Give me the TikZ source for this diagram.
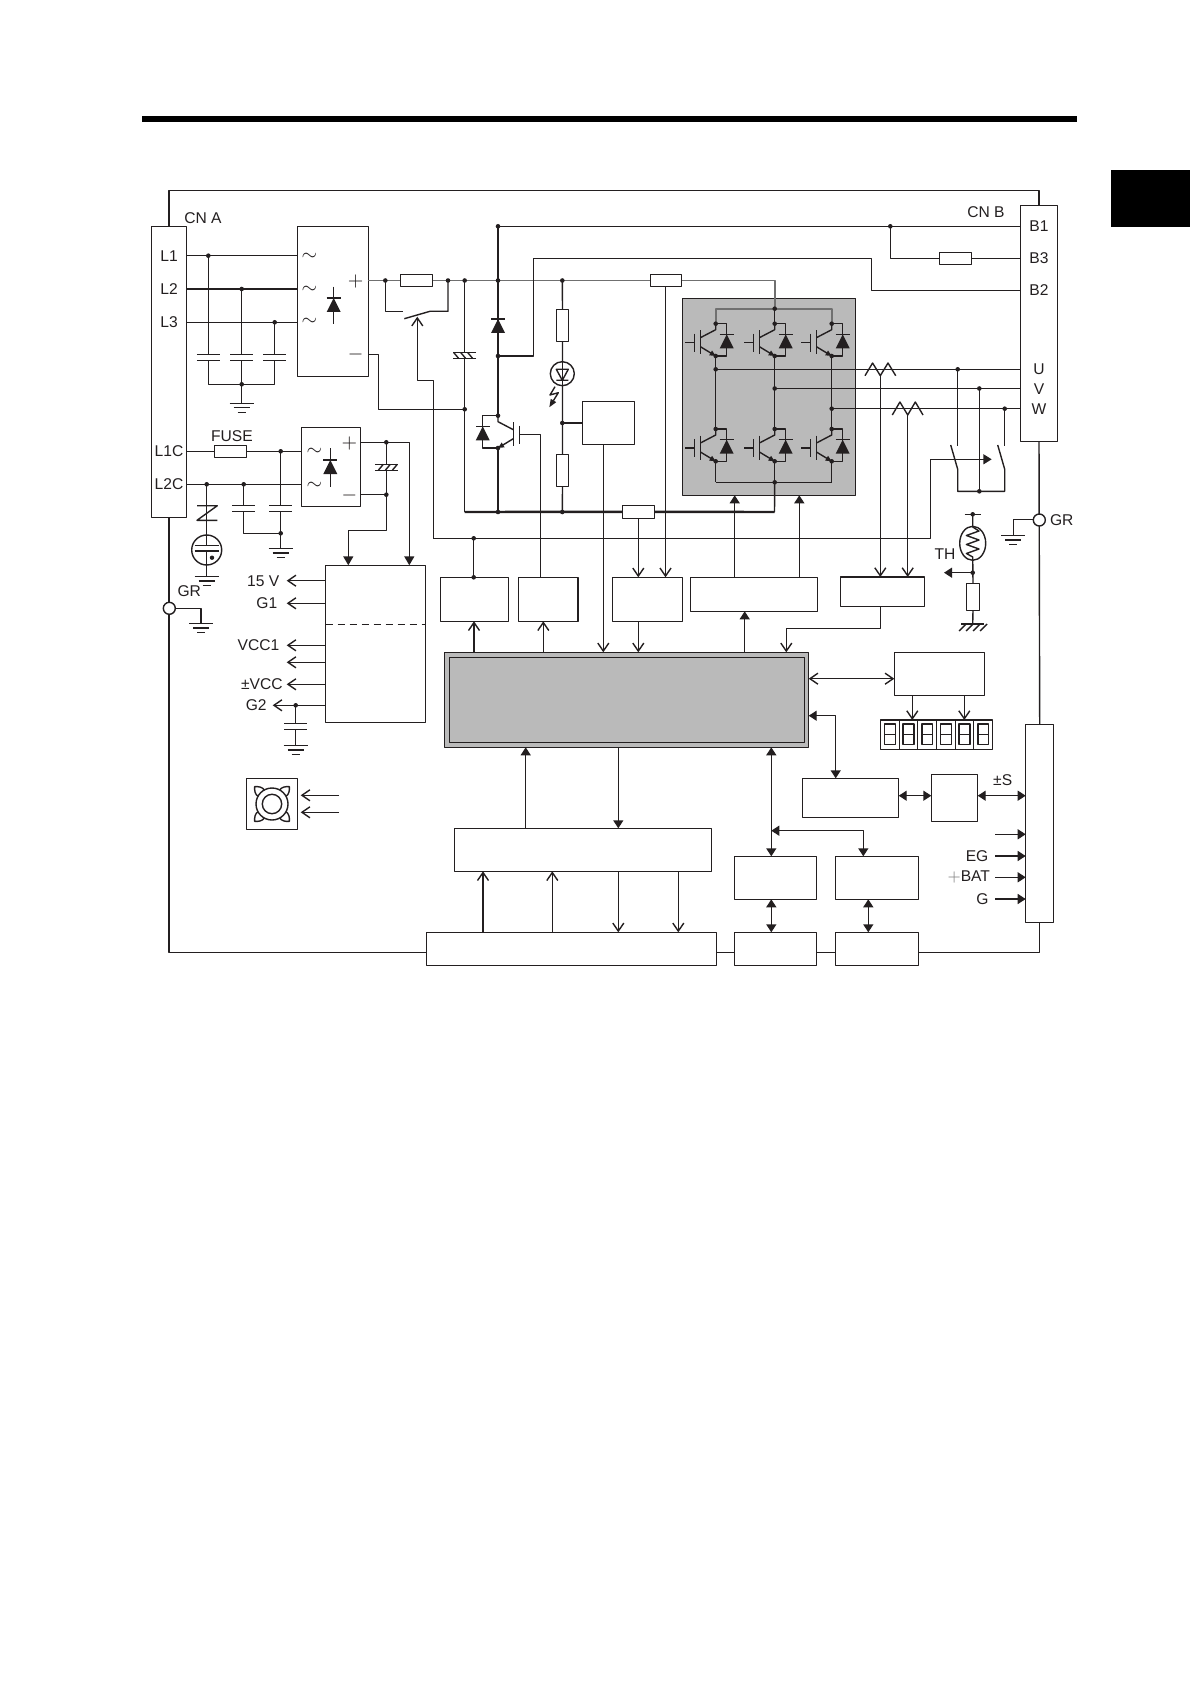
\documentclass[tikz,border=0pt]{standalone}
\usepackage{fontspec}
\setmainfont{Liberation Sans}
\usetikzlibrary{arrows.meta}
\definecolor{ink}{HTML}{231F20}
\definecolor{panel}{HTML}{BABABA}
\definecolor{dcgray}{HTML}{707070}
\newcommand{\blk}[5]{\node[blk,minimum width={(#4-#2)*0.5pt},minimum height={(#5-#3)*0.5pt}] (#1) at ({(#2+#4)/2},{(#3+#5)/2}) {};}
\def\dioff{11}
\tikzset{
 blk/.style={draw=ink,fill=white,inner sep=0pt,outer sep=0pt},
 lbl/.style={inner sep=0pt,text=ink,font=\fontsize{7.8}{9}\selectfont},
 sgn/.style={inner sep=0pt,text=ink,font=\fontsize{10}{10}\selectfont},
 oa/.style={-{Straight Barb[length=4pt,width=5.5pt]}},
 oo/.style={{Straight Barb[length=4pt,width=5.5pt]}-{Straight Barb[length=4pt,width=5.5pt]}},
 fa/.style={-{Triangle[length=4pt,width=5pt]}},
 ff/.style={{Triangle[length=4pt,width=5pt]}-{Triangle[length=4pt,width=5pt]}},
 dcbus/.style={draw=dcgray,line width=0.9pt},
 thick bus/.style={line width=1.2pt},
 gndsym/.pic={\draw (-12,0)--(12,0) (-8,4.5)--(8,4.5) (-4,9)--(4,9);},
 capsym/.pic={\fill[white] (-4,-3) rectangle (4,3); \draw (-11.5,-3)--(11.5,-3) (-11.5,3)--(11.5,3);},
 hatchcap/.pic={\fill[white] (-4,-3) rectangle (4,3);
  \draw (-11.5,-3)--(11.5,-3) (-11.5,3)--(11.5,3);
  \foreach \u in {-8,-1,6} \draw (\u,3)--(\u+5,-3);},
 diodesym/.pic={\fill[ink] (-7,7)--(7,7)--(0,-7)--cycle; \draw (-7,-7)--(7,-7);},
 igbt/.pic={
  \draw (0,0)--(0,6)--(-15.3,14);
  \draw[-{Triangle[length=3pt,width=2.6pt]}] (-15.3,23)--(0,32.3);
  \draw (-15.3,6.7)--(-15.3,30.7) (-21.3,10)--(-21.3,28) (-30.7,19)--(-21.3,19);
  \draw (0,0)--(\dioff,0)--(\dioff,32.3)--(0,32.3);
  \fill[ink] (\dioff-7,24.7)--(\dioff+7,24.7)--(\dioff,10.7)--cycle;
  \draw (\dioff-7,10.7)--(\dioff+7,10.7);
  \fill[ink] (0,0) circle[radius=2.3] (0,32.3) circle[radius=2.3];},
 fansym/.pic={\draw (0,0) circle[radius=16] (0,0) circle[radius=9.7];
  \foreach \a in {45,135,225,315}
   \draw[rotate=\a] (15.7,-4.5) .. controls (19,-5) and (22,-3) .. (24.5,0) .. controls (22,3) and (19,5) .. (15.7,4.5);},
}
\begin{document}
\begin{tikzpicture}[x=0.5pt,y=-0.5pt,line width=0.7pt,draw=ink,line join=round]
 \useasboundingbox (0,0) rectangle (1190,1684);
 % page marks
 \fill[black] (142,116) rectangle (1077,122);
 \fill[black] (1111,170) rectangle (1190,226.7);
 % blocks
 \blk{cna}{151.3}{226.3}{186.7}{517.3}
 \blk{cnb}{1020.3}{205.3}{1057.7}{441.3}
 \blk{cnc}{1025.7}{724.3}{1053.7}{922.3}
 \coordinate (frb) at (0,952.3);
 \coordinate (frt) at (0,190.3);
 \blk{lnk}{426.3}{932.3}{716.3}{965.3}
 \blk{cona}{734.3}{932.3}{816.7}{965.3}
 \blk{conb}{835.3}{932.3}{918.7}{965.3}
 % frame
 \draw (cna.north) -- (cna.north |- frt) -- (cnb.north |- frt) -- (cnb.north);
 \draw (cna.south) -- (cna.south |- frb) -- (lnk.west |- frb);
 \draw (lnk.east |- frb) -- (cona.west |- frb) (cona.east |- frb) -- (conb.west |- frb);
 \draw (conb.east |- frb) -| (cnc.south);
 \draw (cnb.south) -- (cnc.north);
 % inverter panel
 \node[blk,fill=panel,minimum width=86.7pt,minimum height=98.5pt] (igp) at (769,396.8) {};
 \blk{recta}{297.3}{226.3}{368.3}{376.3}
 \blk{rectb}{301.3}{427.3}{360.3}{506.3}
 \blk{psu}{325.7}{565.3}{425.7}{722.3}
 \blk{drva}{440.3}{577.3}{508.7}{621.3}
 \blk{drvb}{518.3}{577.3}{578}{621.3}
 \blk{sns}{612.3}{577.3}{682.7}{621.3}
 \blk{gate}{690.3}{577.3}{817.7}{611.3}
 \blk{cur}{840.3}{577}{924.7}{606.3}
 \blk{vdet}{582.3}{401.3}{634.7}{444.3}
 \blk{led}{894.3}{652.3}{984.3}{695.3}
 \blk{enc}{802.3}{778.3}{898.7}{817.3}
 \blk{enb}{931.3}{774.3}{977.7}{821.3}
 \blk{mid}{454.3}{828.3}{711.7}{871.3}
 \blk{busa}{734.3}{856.3}{816.7}{899.3}
 \blk{busb}{835.3}{856.3}{918.7}{899.3}
 \blk{fan}{246.3}{778.3}{297.7}{829.3}
 \blk{seg}{880.3}{720}{992.7}{749.3}
 \node[blk,fill=panel,minimum width=182.2pt,minimum height=47.5pt] (cpuo) at (626.5,699.8) {};
 \node[blk,fill=panel,minimum width=177.7pt,minimum height=42.5pt] (cpui) at (627,699.8) {};
 % junctions
 \foreach \n/\x/\y in {jL1/208.3/255.7,jL2/241.7/289,jL3/274.7/322.3,jCap/241.7/384.3,
  dcA/385.3/280.5,dcB/448/280.5,dcC/464.7/280.5,dcD/498/280.5,dcE/562.3/280.5,
  jTop/498/226.3,jB3/890.3/226.3,jBr/498/356,jNeg/464.7/409.3,jCol/498/415.7,jEmi/498/448,
  busL/464.7/512,busD/498/512,busE/562.3/512,busR/774.5/512,
  jVd/562.3/423,jRail/774.7/308.7,jLow/774.7/482.3,
  jU/715.7/369.3,jV/774.7/388.5,jW/831.7/408.7,
  bU/957.7/369.3,bV/979.3/388.5,bW/1004.7/408.7,bS/979.3/491.3,
  jF/280.7/451.3,jZ/206.7/484.3,jC2/243.7/484.3,jC3/280.7/533.3,
  jP/386.3/442.3,jM/386.3/494.7,jRel/473.7/538.3,jG2/295.7/705.3,
  jTh/972.7/572.7,jThT/972.7/514.3,zigU/880.3/375.7,zigW/907.7/415}
  \coordinate (\n) at (\x,\y);
 % resistors
 \blk{rbr}{400.3}{274.3}{432.7}{286.7}
 \blk{rdc}{650.3}{274.3}{681.7}{286.7}
 \blk{rbus}{622.3}{505.3}{654.7}{518.3}
 \blk{rbt}{939.3}{252.3}{971.7}{264.3}
 \blk{rup}{556.3}{309.3}{568.7}{341.7}
 \blk{rlo}{556.3}{454.3}{568.7}{486.3}
 \blk{rth}{966.3}{583.3}{979.7}{610.3}
 \blk{fuse}{214.3}{445.3}{246.7}{457.3}
 % mains input
 \foreach \j in {jL1,jL2,jL3} \draw (cna.east |- \j) -- (recta.west |- \j);
 \draw (jL1) |- (jL3 |- jCap) -- (jL3);
 \draw (jL2) -- (jL2 |- 0,403.3);
 \foreach \x in {208.3,241.7,274.7} \pic at (\x,357.3) {capsym};
 \pic at (241.7,403.3) {gndsym};
 % dc link
 \draw[dcbus] (recta.east |- dcA) -- (rbr.west);
 \draw[dcbus] (rbr.east) -- (rdc.west);
 \draw[dcbus] (rdc.east) -| (jRail);
 \draw (dcA) |- (403.3,311.3);
 \draw (404.3,318.7) -- (430,311.3) -- (448,311.3) -- (dcB);
 \draw (recta.east |- 0,354.3) -- (378.7,354.3) |- (jNeg);
 \draw (dcC) -- (busL);
 \pic[xscale=-1] at (464.7,355.5) {hatchcap};
 \draw[thick bus] (busL) -- (rbus.west);
 \draw[thick bus] (rbus.east) -- (busR);
 \draw (busR) -- (jLow);
 % brake
 \draw (jTop) -- (jCol);
 \draw (jTop) -- (cnb.west |- jTop);
 \pic at (498,326) {diodesym};
 \draw (jBr) -| (533.3,258.3) -- (871.3,258.3) -- (871.3,290.3) -- (cnb.west |- 0,290.3);
 \draw (jB3) |- (rbt.west) (rbt.east) -- (cnb.west |- rbt);
 \def\dioff{15.3}
 \pic[xscale=-1] at (jCol) {igbt};
 \def\dioff{11}
 \draw (jEmi) -- (busD);
 \draw (519.3,434.3) -- (540.3,434.3) -- (540.3,0 |- drvb.north);
 % voltage detection
 \draw (dcE) -- (rup.north) (rup.south) -- (rlo.north) (rlo.south) -- (busE);
 \draw[fill=white] (562.3,373.7) circle[radius=12];
 \draw (562.3,361.7) -- (562.3,385.7);
 \draw (556.3,369.3) -- (568.3,369.3) -- (562.3,380.3) -- cycle (556.3,380.3) -- (568.3,380.3);
 \draw[-{Triangle[length=4pt,width=3pt]}] (555,386.7) -- (550,395) -- (558.3,392.7) -- (549.3,407.3);
 \draw (jVd) -- (vdet.west |- jVd);
 % inverter
 \draw[dcbus] (715.7,323.7) |- (831.7,308.7) -- (831.7,323.7);
 \draw (jRail) -- (774.7,323.7);
 \foreach \x in {715.7,774.7,831.7} {
  \pic at (\x,323.7) {igbt};
  \pic at (\x,429) {igbt};
  \draw (\x,356) -- (\x,429) (\x,461.7) -- (\x,482.3);
 }
 \draw (715.7,482.3) -- (831.7,482.3);
 % motor output
 \foreach \j in {jU,jV,jW} \draw (\j) -- (cnb.west |- \j);
 \draw (865,375.7) -- (872.6,363) -- (zigU) -- (888,363) -- (895.7,375.7);
 \draw (892.3,415) -- (899.9,402) -- (zigW) -- (915.3,402) -- (923,415);
 \draw (bU) -- (957.7,445.7) (bW) -- (1004.7,445.7);
 \draw (950.7,445) -- (957.7,469.3) |- (bS) -| (1004.7,469.3) -- (997.7,445);
 \draw (bV) -- (bS);
 \draw[-{Triangle[length=4.2pt,width=5pt]}] (jRel) -| (930.3,459.3) -- (991.7,459.3);
 \draw[oa] (433.3,538.3) |- (417.3,380.3) -- (417.3,316.7);
 \draw (433.3,538.3) -- (jRel);
 \draw (jRel) -- (jRel |- drva.north);
 % control supply
 \draw (cna.east |- jF) -- (fuse.west) (fuse.east) -- (rectb.west |- jF);
 \draw (cna.east |- jZ) -- (rectb.west |- jZ);
 \draw (jF) -- (jC3) -| (jC2);
 \foreach \x in {243.7,280.7} \pic at (\x,508.5) {capsym};
 \draw (jC3) -- (280.7,548.3);
 \pic at (280.7,548.3) {gndsym};
 \draw (jZ) -- (206.7,576.3);
 \draw (197,505.7) -- (217.3,505.7) -- (197,520.3) -- (217.3,520.3);
 \draw[fill=white] (206.7,550) circle[radius=15];
 \draw (206.7,535) -- (206.7,545.7) (206.7,551) -- (206.7,565) (194.7,545.7) -- (218.7,545.7) (194.7,551) -- (218.7,551);
 \fill[ink] (212,557.7) circle[radius=2.2];
 \pic at (206.7,576.3) {gndsym};
 \draw[-{Triangle[length=4.5pt,width=5pt]}] (rectb.east |- jP) -| (409.3,0 |- psu.north);
 \draw[-{Triangle[length=4.5pt,width=5pt]}] (jP) -- (386.3,530.3) -| (348.3,0 |- psu.north);
 \draw (rectb.east |- jM) -- (jM);
 \pic at (386.3,467.3) {hatchcap};
 \draw[dashed,dash pattern=on 3.5pt off 2.5pt] (psu.west |- 0,624.7) -- (psu.east |- 0,624.7);
 \foreach \y/\t in {580.7/286.7,603.3/286.7,645.3/286.7,662.3/286.7,684.3/286.7,705.3/272.7}
  \draw[oa] (psu.west |- 0,\y) -- (\t,\y);
 \draw (jG2) -- (295.7,745.3);
 \pic at (295.7,726.5) {capsym};
 \pic at (295.7,745.3) {gndsym};
 % frame grounds
 \draw[fill=white] (169.3,608.3) circle[radius=6];
 \draw (175.3,608.3) -- (201,608.3) -- (201,623.3);
 \pic at (201,623.3) {gndsym};
 \draw (1033.3,519.3) -| (1013.3,535.3);
 \pic at (1013.3,535.3) {gndsym};
 \draw[fill=white] (1039.3,520) circle[radius=6];
 % thermistor
 \draw (964.7,514.3) -- (980.7,514.3);
 \draw (jThT) -- (972.7,527) -- (979,531) -- (966.4,535.5) -- (979,540) -- (966.4,544.5) -- (979,549) -- (966.4,553.5) -- (972.7,557) -- (rth.north);
 \draw (972.7,543.3) ellipse[x radius=13,y radius=17];
 \draw (rth.south) -- (972.7,624);
 \draw (961,624) -- (984,624);
 \foreach \u in {966,973,980,987} \draw (\u,624) -- (\u-7,631);
 \draw[-{Triangle[length=4pt,width=5pt]}] (jTh) -- (944,572.7);
 % fan
 \pic at (272,804) {fansym};
 \foreach \y in {795.3,812.3} \draw[oa] (339,\y) -- (300.7,\y);
 % display
 \foreach \u in {899.3,917.7,936.7,955.3,973.7} \draw (\u,720) -- (\u,749.3);
 \foreach \u in {889.8,908.5,927.2,946,964.5,983.2} {
  \draw (\u-5.4,724) rectangle (\u+5.4,744.7);
  \draw (\u-5.4,734.3) -- (\u+5.4,734.3);
 }
 \foreach \x in {912.3,964.3} \draw[oa] (\x,0 |- led.south) -- (\x,0 |- seg.north);
 % signal arrows
 \foreach \x/\a/\b in {603.3/vdet.south/cpuo.north,638.3/rbus.south/sns.north,665.5/rdc.south/sns.north,
  638.3/sns.south/cpuo.north,880.3/zigU/cur.north,907.7/zigW/cur.north,474/cpuo.north/drva.south,
  543.3/cpuo.north/drvb.south,483/lnk.north/mid.south,552.3/lnk.north/mid.south,
  618.3/mid.south/lnk.north,678.3/mid.south/lnk.north}
  \draw[oa] (\x,0 |- \a) -- (\x,0 |- \b);
 \foreach \x/\a/\b in {525.7/mid.north/cpuo.south,618.3/cpuo.south/mid.north,734.7/gate.north/igp.south,
  799.3/gate.north/igp.south,744.7/cpuo.north/gate.south}
  \draw[fa] (\x,0 |- \a) -- (\x,0 |- \b);
 \foreach \x/\a/\b in {771.3/cpuo.south/busa.north,771.3/busa.south/cona.north,868.3/busb.south/conb.north}
  \draw[ff] (\x,0 |- \a) -- (\x,0 |- \b);
 \draw[ff] (771.3,830.7) -| (863.3,0 |- busb.north);
 \draw[ff] (cpuo.east |- 0,715.7) -| (835.7,0 |- enc.north);
 \draw[ff] (enc.east |- 0,795.7) -- (enb.west |- 0,795.7);
 \draw[ff] (enb.east |- 0,795.7) -- (cnc.west |- 0,795.7);
 \draw[oo] (cpuo.east |- 0,678.7) -- (led.west |- 0,678.7);
 \draw[oa] (880.3,0 |- cur.south) |- (786.3,628.3) -- (786.3,0 |- cpuo.north);
 \foreach \y in {834.3,856,877.3,899} \draw[fa] (995,\y) -- (cnc.west |- 0,\y);
 % dots
 \foreach \p in {jL1,jL2,jL3,jCap,dcA,dcB,dcC,dcD,dcE,jTop,jB3,jBr,jNeg,busD,busE,jVd,jRail,jLow,jU,jV,jW,
  bU,bV,bW,bS,jF,jZ,jC2,jC3,jP,jM,jRel,jG2,jTh,jThT}
  \fill[ink] (\p) circle[radius=2.3];
 \fill[ink] (jRel |- drva.north) circle[radius=2.3];
 % rectifier marks
 \foreach \y/\n in {256.5/a,289.5/b,321.5/c} \node[sgn] (ta\n) at (309.3,\y) {$\sim$};
 \foreach \y/\n in {451.7/a,485.7/b} \node[sgn] (tb\n) at (314.3,\y) {$\sim$};
 \draw (333.7,286.7) -- (333.7,324.3) (330.3,448.3) -- (330.3,486.7);
 \pic at (333.7,305) {diodesym};
 \pic at (330.3,467) {diodesym};
 \node[sgn] (pa) at (355.7,281.3) {$+$};
 \node[sgn] (ma) at (355.7,355) {$-$};
 \node[sgn] (pb) at (349.3,443) {$+$};
 \node[sgn] (mb) at (349.3,495.3) {$-$};
 % labels
 \foreach \t/\y/\n in {L1/255.7/a,L2/289/b,L3/322.3/c,L1C/451.3/d,L2C/484.3/e}
  \node[lbl] (tc\n) at (169,\y) {\t};
 \foreach \t/\y/\n in {B1/225.7/a,B3/258.3/b,B2/290.3/c,U/369/d,V/388.7/e,W/409/f}
  \node[lbl] (td\n) at (1039,\y) {\t};
 \node[lbl] (tCNA) at (203,217.7) {CN A};
 \node[lbl] (tCNB) at (986,212) {CN B};
 \node[lbl] (tFuse) at (232,435.7) {FUSE};
 \node[lbl] (tGRa) at (189.3,590.7) {GR};
 \node[lbl] (tGRb) at (1061.7,520) {GR};
 \node[lbl] (tTH) at (945,554.3) {TH};
 \node[lbl,anchor=east] (t15) at (280,581.5) {15 V};
 \node[lbl,anchor=east] (tG1) at (278,603.5) {G1};
 \node[lbl,anchor=east] (tVa) at (280,645) {VCC1};
 \node[lbl,anchor=east] (tVb) at (283.3,684) {±VCC};
 \node[lbl,anchor=east] (tG2) at (267.3,705) {G2};
 \node[lbl] (tS) at (1002.7,780) {±S};
 \node[lbl,anchor=east] (tEG) at (989,856) {EG};
 \node[lbl,anchor=east] (tBAT) at (990.7,877.3) {\textcolor{gray}{$+$}BAT};
 \node[lbl,anchor=east] (tG) at (989.3,899) {G};
\end{tikzpicture}
\end{document}
